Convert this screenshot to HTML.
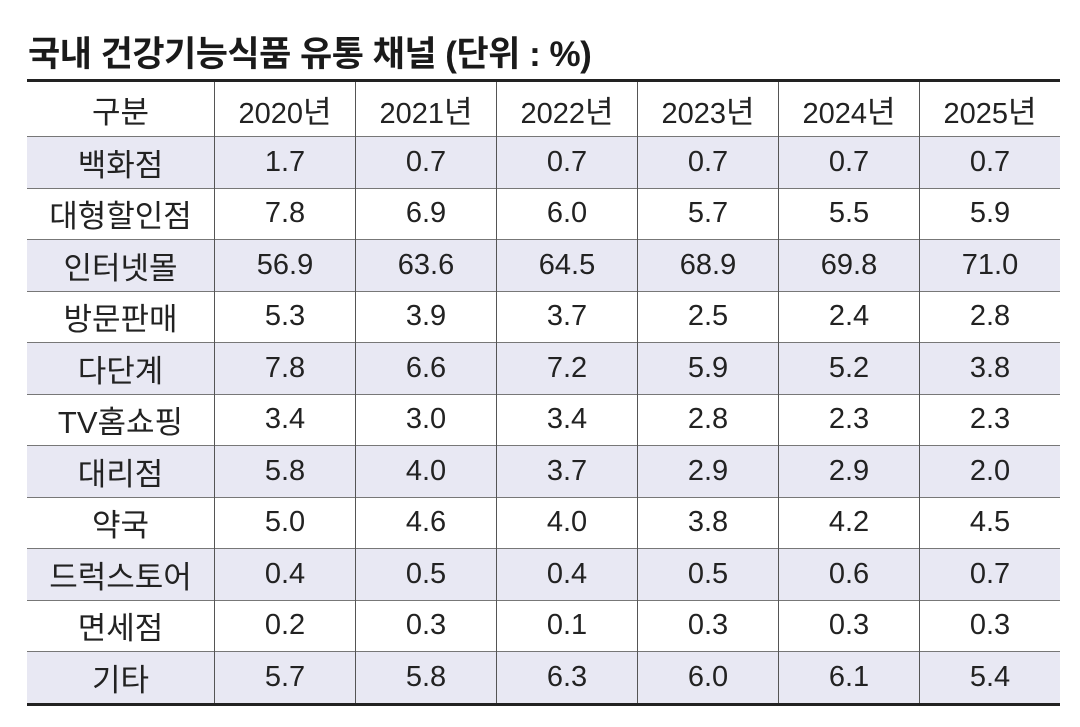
<!DOCTYPE html>
<html><head><meta charset="utf-8"><style>
body{margin:0;width:1080px;height:727px;background:#fff;font-family:"Liberation Sans","Noto Sans CJK KR",sans-serif;position:relative;overflow:hidden}
.t{position:absolute;left:28px;top:26px;font-size:35px;font-weight:bold;color:#1a1a1a;letter-spacing:-0.5px}
table{position:absolute;left:27px;top:79px;border-collapse:collapse;border-top:3px solid #222;border-bottom:3px solid #222}
td{height:50.5px;padding:0;text-align:center;font-size:29px;color:#222;border-left:1.5px solid #555;border-top:1.5px solid #777}
td:first-child{border-left:none;width:187px;font-size:31px}
td:not(:first-child){width:140px}
tr:first-child td{height:54px;border-top:none}
tr.s td{background:#e8e8f3}
k{font-size:31px}
</style></head><body>
<div class="t">국내 건강기능식품 유통 채널 (단위 : %)</div>
<table>
<tr><td>구분</td><td>2020<k>년</k></td><td>2021<k>년</k></td><td>2022<k>년</k></td><td>2023<k>년</k></td><td>2024<k>년</k></td><td>2025<k>년</k></td></tr>
<tr class="s"><td>백화점</td><td>1.7</td><td>0.7</td><td>0.7</td><td>0.7</td><td>0.7</td><td>0.7</td></tr>
<tr><td>대형할인점</td><td>7.8</td><td>6.9</td><td>6.0</td><td>5.7</td><td>5.5</td><td>5.9</td></tr>
<tr class="s"><td>인터넷몰</td><td>56.9</td><td>63.6</td><td>64.5</td><td>68.9</td><td>69.8</td><td>71.0</td></tr>
<tr><td>방문판매</td><td>5.3</td><td>3.9</td><td>3.7</td><td>2.5</td><td>2.4</td><td>2.8</td></tr>
<tr class="s"><td>다단계</td><td>7.8</td><td>6.6</td><td>7.2</td><td>5.9</td><td>5.2</td><td>3.8</td></tr>
<tr><td>TV홈쇼핑</td><td>3.4</td><td>3.0</td><td>3.4</td><td>2.8</td><td>2.3</td><td>2.3</td></tr>
<tr class="s"><td>대리점</td><td>5.8</td><td>4.0</td><td>3.7</td><td>2.9</td><td>2.9</td><td>2.0</td></tr>
<tr><td>약국</td><td>5.0</td><td>4.6</td><td>4.0</td><td>3.8</td><td>4.2</td><td>4.5</td></tr>
<tr class="s"><td>드럭스토어</td><td>0.4</td><td>0.5</td><td>0.4</td><td>0.5</td><td>0.6</td><td>0.7</td></tr>
<tr><td>면세점</td><td>0.2</td><td>0.3</td><td>0.1</td><td>0.3</td><td>0.3</td><td>0.3</td></tr>
<tr class="s"><td>기타</td><td>5.7</td><td>5.8</td><td>6.3</td><td>6.0</td><td>6.1</td><td>5.4</td></tr>
</table>
</body></html>
